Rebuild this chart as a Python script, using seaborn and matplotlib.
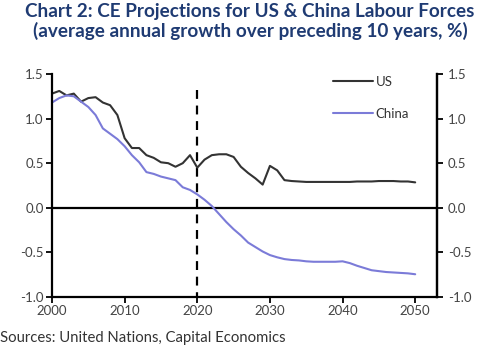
import numpy as np
import pandas as pd
import matplotlib
matplotlib.use("Agg")
import matplotlib.pyplot as plt
import seaborn as sns

years = list(range(2000, 2051))
us = [1.28, 1.31, 1.26, 1.28, 1.19, 1.23, 1.24, 1.18, 1.15, 1.04,
      0.78, 0.67, 0.67, 0.59, 0.56, 0.51, 0.50, 0.46, 0.50, 0.59,
      0.45, 0.54, 0.59, 0.60, 0.60, 0.57, 0.46, 0.39, 0.33, 0.26,
      0.47, 0.42, 0.31, 0.30, 0.295, 0.29, 0.29, 0.29, 0.29, 0.29,
      0.29, 0.29, 0.295, 0.295, 0.295, 0.30, 0.30, 0.30, 0.295, 0.295,
      0.285]
china = [1.18, 1.23, 1.26, 1.25, 1.19, 1.13, 1.04, 0.89, 0.83, 0.77,
         0.69, 0.59, 0.51, 0.40, 0.38, 0.35, 0.33, 0.31, 0.23, 0.20,
         0.15, 0.09, 0.02, -0.07, -0.16, -0.24, -0.31, -0.39, -0.44, -0.49,
         -0.53, -0.555, -0.575, -0.585, -0.59, -0.60, -0.605, -0.605, -0.605, -0.605,
         -0.60, -0.62, -0.65, -0.675, -0.70, -0.71, -0.72, -0.725, -0.73, -0.735,
         -0.745]
series_names = ["US", "China"]
colors = ["#333333", "#7b7bd8"]
yticks = [-1.0, -0.5, 0.0, 0.5, 1.0, 1.5]
xticks = [2000, 2010, 2020, 2030, 2040, 2050]
title = "Chart 2: CE Projections for US & China Labour Forces\n(average annual growth over preceding 10 years, %)"
source = "Sources: United Nations, Capital Economics"

df = pd.DataFrame({
    "year": years * 2,
    "value": us + china,
    "series": ["US"] * len(years) + ["China"] * len(years),
})

sns.set_theme(style="white")
plt.rcParams["font.family"] = ["Lato", "DejaVu Sans"]

fig = plt.figure(figsize=(5.0, 3.49), dpi=100)
ax = fig.add_axes([0.104, 0.149, 0.770, 0.639])

sns.lineplot(data=df, x="year", y="value", hue="series", hue_order=series_names,
             palette=colors, linewidth=1.5, ax=ax, legend=False)

ax.axhline(0, color="black", lw=1.6, zorder=1)
ax.plot([2020, 2020], [1.32, -1.0], color="black", lw=1.6, ls=(0, (4, 3)), zorder=1)

ax.set_xlim(2000, 2053)
ax.set_ylim(-1.0, 1.5)
ax.set_xticks(xticks)
ax.set_yticks(yticks)
ax.set_yticklabels([f"{v:.1f}" for v in yticks])
ax.set_xlabel("")
ax.set_ylabel("")
ax.spines["top"].set_visible(False)
for s in ["left", "right", "bottom"]:
    ax.spines[s].set_color("black")
    ax.spines[s].set_linewidth(1.6)
ax.tick_params(axis="both", direction="out", length=4, width=1.3, color="black",
               labelsize=9.5, labelcolor="#444444", pad=2, left=True, bottom=True)

ax2 = ax.twinx()
ax2.set_ylim(-1.0, 1.5)
ax2.set_yticks(yticks)
ax2.set_yticklabels([f"{v:.1f}" for v in yticks])
for s in ["top", "left", "bottom"]:
    ax2.spines[s].set_visible(False)
ax2.spines["right"].set_color("black")
ax2.spines["right"].set_linewidth(1.6)
ax2.tick_params(axis="y", direction="out", length=4, width=1.3, color="black",
                labelsize=9.5, labelcolor="#444444", pad=4, right=True)

from matplotlib.lines import Line2D
handles = [Line2D([], [], color=c, lw=1.5) for c in colors]
leg = ax.legend(handles, series_names, loc="upper left", bbox_to_anchor=(0.70, 1.045),
                frameon=False, fontsize=9.5, handlelength=3.0, handletextpad=0.2,
                labelspacing=1.5, labelcolor="#333333")

fig.text(0.5, 0.99, title, ha="center", va="top", fontsize=13.6, fontweight="bold",
         color="#1f3b73", linespacing=1.12)
fig.text(0.0, 0.012, source, ha="left", va="bottom", fontsize=10.7, color="#333333")

fig.savefig("out.png", dpi=100)
